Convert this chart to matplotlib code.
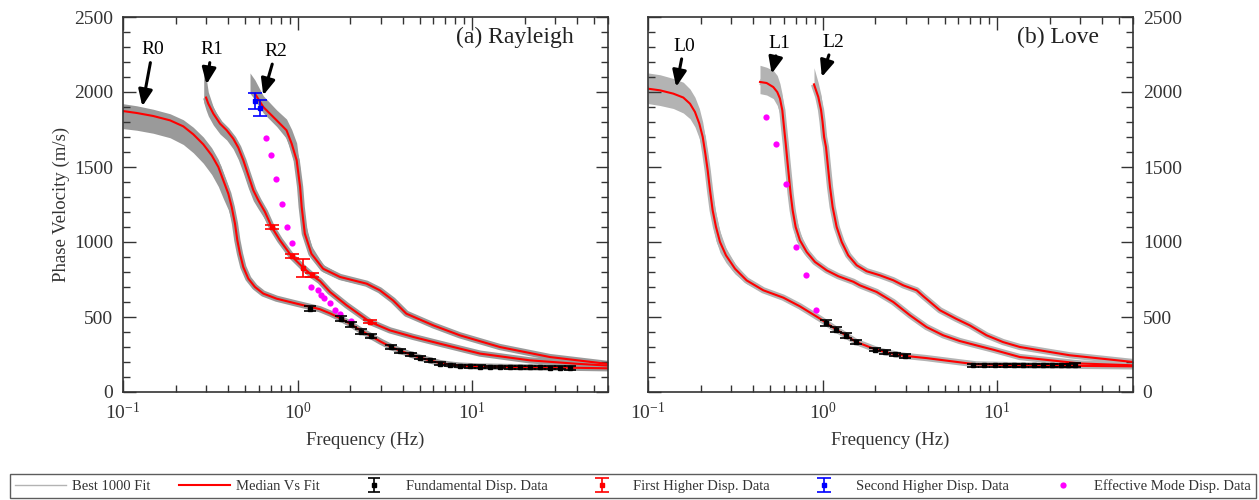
import numpy as np
import matplotlib
matplotlib.use('Agg')
import matplotlib.pyplot as plt
from matplotlib.lines import Line2D
from matplotlib.ticker import MultipleLocator, LogLocator

plt.rcParams['font.family'] = ['Liberation Serif', 'DejaVu Serif']
plt.rcParams['mathtext.fontset'] = 'stix'

# ---------------- Rayleigh (a) ----------------
# fundamental mode R0: frequency, median, upper / lower edge of the 1000 fits
r0_f = [0.1, 0.12, 0.149, 0.186, 0.2215, 0.2527, 0.2884, 0.322, 0.3516, 0.3754, 0.401, 0.4195,
        0.438, 0.4518, 0.4677, 0.4887, 0.522, 0.57, 0.636, 0.759, 0.988, 1.343, 1.55, 1.75,
        2.0, 2.3, 2.63, 3.0, 3.41, 3.87, 4.44, 5.0, 5.73, 6.54, 7.46, 8.5, 11, 20, 36, 60]
r0_med = [1873, 1860, 1840, 1811, 1771, 1718, 1651, 1578, 1500, 1411, 1322, 1233,
          1122, 1011, 922, 833, 756, 700, 656, 622, 589, 552, 522, 492,
          455, 410, 373, 335, 302, 275, 250, 230, 211, 193, 183, 176, 170, 165, 162, 158]
r0_hi = [1922, 1908, 1885, 1855, 1815, 1765, 1700, 1628, 1550, 1460, 1370, 1280,
         1165, 1050, 955, 860, 775, 715, 668, 632, 598, 562, 532, 502,
         465, 420, 383, 345, 311, 284, 259, 238, 219, 201, 190, 183, 177, 172, 170, 168]
r0_lo = [1756, 1745, 1725, 1695, 1650, 1595, 1525, 1450, 1370, 1290, 1215, 1140,
         1050, 955, 880, 800, 735, 685, 644, 612, 580, 542, 512, 482,
         445, 400, 363, 325, 293, 266, 241, 222, 203, 185, 176, 169, 163, 158, 155, 150]

# first higher mode R1
r1_f = [0.29, 0.299, 0.308, 0.329, 0.3595, 0.3926, 0.428, 0.4575, 0.4887, 0.522, 0.5577, 0.5957,
        0.6507, 0.711, 0.793, 0.925, 1.07, 1.21, 1.343, 1.534, 1.91, 2.6, 3.38, 4.6, 6.54,
        11.1, 21.4, 40, 60]
r1_med = [np.nan, 1963, 1922, 1856, 1789, 1745, 1689, 1629, 1545, 1445, 1345, 1278,
          1200, 1100, 1011, 905, 832, 778, 740, 667, 578, 467, 411, 367, 322,
          256, 211, 188, 176]
r1_hi = [2127, 2100, 2000, 1900, 1815, 1765, 1710, 1650, 1570, 1470, 1370, 1298,
         1215, 1112, 1021, 915, 842, 788, 750, 677, 588, 477, 421, 377, 331,
         265, 220, 196, 184]
r1_lo = [1930, 1880, 1840, 1780, 1720, 1680, 1620, 1550, 1460, 1360, 1275, 1220,
         1150, 1070, 990, 890, 820, 766, 728, 655, 568, 457, 401, 357, 313,
         247, 202, 180, 168]

# second higher mode R2
r2_f = [0.534, 0.570, 0.636, 0.759, 0.864, 0.925, 0.988, 1.034, 1.056, 1.10, 1.20, 1.40,
        1.75, 2.49, 2.96, 3.52, 4.2, 6.0, 8.5, 14.4, 27.9, 60]
r2_med = [np.nan, 1989, 1900, 1811, 1745, 1656, 1545, 1367, 1233, 1056, 922, 822,
          767, 722, 678, 611, 522, 444, 378, 300, 233, 187]
r2_hi = [2127, 2080, 1975, 1880, 1820, 1750, 1660, 1480, 1330, 1140, 975, 850,
         785, 738, 692, 625, 535, 455, 388, 310, 243, 196]
r2_lo = [1990, 1950, 1860, 1770, 1690, 1590, 1460, 1290, 1170, 1010, 890, 800,
         750, 708, 665, 598, 510, 433, 368, 290, 224, 178]

# measured dispersion data
rd0_f = [1.18, 1.77, 2.01, 2.31, 2.63, 3.41, 3.87, 4.44, 5.02, 5.73, 6.54, 7.46, 8.51, 9.71,
         11.1, 12.6, 14.4, 16.5, 18.8, 21.4, 24.5, 27.9, 31.9, 36.3]
rd0_v = [556, 489, 451, 403, 373, 300, 273, 251, 229, 211, 189, 180, 173, 171,
         169, 167, 167, 164, 164, 164, 164, 162, 162, 162]
rd0_e = [15, 16, 16, 14, 14, 12, 12, 11, 11, 10, 10, 9, 9, 9, 9, 9, 9, 9, 9, 9, 9, 9, 9, 12]

rd1_f = [0.711, 0.925, 1.07, 1.21, 2.60]
rd1_v = [1100, 905, 829, 778, 467]
rd1_e = [14, 14, 60, 14, 10]

rd2_f = [0.570, 0.61]
rd2_v = [1943, 1893]
rd2_e = [53, 55]

reff_f = [0.656, 0.701, 0.749, 0.814, 0.873, 0.933, 1.19, 1.31, 1.36, 1.41, 1.53, 1.63, 1.75, 2.01]
reff_v = [1693, 1580, 1422, 1256, 1100, 993, 698, 683, 645, 630, 593, 549, 522, 472]

# ---------------- Love (b) ----------------
l0_f = [0.1, 0.1172, 0.1397, 0.1593, 0.174, 0.1858, 0.1968, 0.2058, 0.213, 0.2197, 0.2266,
        0.2346, 0.2452, 0.2585, 0.2797, 0.315, 0.3673, 0.4576, 0.5957, 0.742, 0.966, 1.19,
        1.36, 1.55, 2.0, 2.3, 2.6, 3.0, 3.94, 6.1, 7.6, 15, 30, 60]
l0_med = [2022, 2011, 1989, 1963, 1922, 1867, 1789, 1700, 1589, 1478, 1345,
          1211, 1100, 1000, 911, 822, 744, 678, 629, 571, 489, 418,
          378, 335, 285, 265, 252, 240, 226, 198, 184, 177, 174, 171]
l0_hi = [2127, 2115, 2090, 2065, 2020, 1965, 1890, 1800, 1690, 1580, 1445,
         1310, 1190, 1070, 960, 857, 766, 693, 641, 581, 499, 428,
         388, 345, 293, 273, 259, 247, 233, 204, 190, 183, 180, 179]
l0_lo = [1923, 1910, 1890, 1860, 1822, 1767, 1690, 1600, 1490, 1378, 1245,
         1111, 1010, 930, 862, 787, 722, 663, 617, 561, 479, 408,
         368, 325, 277, 257, 245, 233, 219, 192, 178, 171, 168, 163]

l1_f = [0.438, 0.478, 0.522, 0.550, 0.570, 0.588, 0.601, 0.615, 0.628, 0.642, 0.656, 0.674,
        0.701, 0.742, 0.811, 0.905, 1.056, 1.23, 1.50, 1.637, 2.04, 2.54, 3.17, 3.94, 4.91,
        6.1, 7.6, 9.5, 13.5, 30, 60]
l1_med = [2067, 2060, 2033, 2000, 1956, 1878, 1767, 1656, 1545, 1433, 1322, 1211,
          1100, 1011, 933, 867, 811, 772, 735, 711, 667, 600, 511, 433, 378,
          340, 311, 282, 233, 190, 178]
l1_hi = [2178, 2165, 2144, 2110, 2056, 1980, 1870, 1760, 1650, 1540, 1425, 1305,
         1180, 1060, 965, 885, 824, 783, 745, 721, 677, 610, 521, 442, 387,
         348, 319, 290, 241, 196, 186]
l1_lo = [1989, 1980, 1956, 1910, 1850, 1770, 1660, 1550, 1440, 1330, 1220, 1115,
         1020, 960, 900, 848, 798, 761, 725, 701, 657, 590, 501, 424, 369,
         332, 303, 274, 225, 184, 170]

l2_f = [0.893, 0.945, 0.98, 1.0, 1.02, 1.046, 1.074, 1.103, 1.142, 1.204, 1.287, 1.403,
        1.568, 1.789, 2.13, 2.54, 2.9, 3.46, 3.78, 4.7, 5.8, 6.98, 8.7, 10.8, 13.5, 26, 60]
l2_med = [2051, 1967, 1880, 1800, 1700, 1633, 1500, 1367, 1233, 1100, 1000, 911,
          845, 805, 778, 745, 711, 678, 638, 545, 489, 444, 378, 333, 300, 245, 200]
l2_hi = [2162, 2060, 1980, 1900, 1790, 1710, 1580, 1440, 1300, 1155, 1040, 940,
         865, 820, 791, 757, 723, 690, 650, 557, 500, 454, 388, 342, 309, 253, 207]
l2_lo = [2000, 1900, 1800, 1710, 1620, 1550, 1420, 1290, 1165, 1045, 960, 882,
         825, 790, 765, 733, 699, 666, 626, 533, 478, 434, 368, 324, 291, 237, 193]

ld0_f = [1.04, 1.19, 1.36, 1.55, 2.0, 2.28, 2.6, 2.96, 7.29, 8.39, 9.66, 11.1, 12.5, 14.1,
         16.2, 18.3, 20.5, 23.1, 25.4, 27.9]
ld0_v = [460, 416, 376, 333, 283, 265, 251, 240, 178, 178, 178, 178, 178, 178,
         178, 178, 178, 179, 180, 181]
ld0_e = [20, 18, 16, 16, 12, 12, 12, 12, 10, 10, 10, 10, 10, 10, 10, 10, 10, 10, 10, 12]

leff_f = [0.474, 0.541, 0.615, 0.702, 0.80, 0.913]
leff_v = [1833, 1651, 1385, 969, 783, 547]

ray_modes = [(r0_f, r0_med, r0_hi, r0_lo), (r1_f, r1_med, r1_hi, r1_lo), (r2_f, r2_med, r2_hi, r2_lo)]
love_modes = [(l0_f, l0_med, l0_hi, l0_lo), (l1_f, l1_med, l1_hi, l1_lo), (l2_f, l2_med, l2_hi, l2_lo)]


def draw_modes(ax, modes, band_color):
    for f, med, hi, lo in modes:
        ax.fill_between(f, lo, hi, color=band_color, lw=0, zorder=1)
        ax.plot(f, med, color=band_color, lw=4.5, solid_capstyle='butt', zorder=1)
    for f, med, hi, lo in modes:
        ax.plot(f, med, color='#ff0000', lw=1.5, zorder=2)


def style_axes(ax):
    ax.set_xscale('log')
    ax.set_xlim(0.1, 60)
    ax.set_ylim(0, 2500)
    ax.yaxis.set_major_locator(MultipleLocator(500))
    ax.yaxis.set_minor_locator(MultipleLocator(100))
    ax.xaxis.set_minor_locator(LogLocator(subs=np.arange(2, 10)))
    ax.tick_params(which='both', direction='in', top=True, right=True, left=True,
                   colors='#333333', labelsize=14, pad=7)
    ax.tick_params(which='major', length=9, width=1)
    ax.tick_params(which='minor', length=5, width=1)
    for s in ax.spines.values():
        s.set_color('#333333')
        s.set_linewidth(1.2)
    ax.set_xlabel('Frequency (Hz)', fontsize=13.5, color='#333333', labelpad=6)


def arrow_label(ax, text, tip, txt):
    ax.annotate(text, xy=tip, xytext=txt, ha='center', va='center', fontsize=14,
                arrowprops=dict(arrowstyle='-|>,head_length=0.7,head_width=0.3', color='k',
                                lw=2.2, mutation_scale=14, shrinkA=1, shrinkB=0), zorder=5)


fig = plt.figure(figsize=(12.59, 5.0), dpi=100)
ax1 = fig.add_axes([123 / 1259, 108 / 500, 485 / 1259, 375 / 500])
ax2 = fig.add_axes([648 / 1259, 108 / 500, 485 / 1259, 375 / 500])

# (a) Rayleigh
draw_modes(ax1, ray_modes, '#9a9a9a')
eb0 = ax1.errorbar(rd0_f, rd0_v, yerr=rd0_e, fmt='s', color='k', ms=3.5, capsize=4,
                   elinewidth=1.2, capthick=1.2, zorder=4)
eb1 = ax1.errorbar(rd1_f, rd1_v, yerr=rd1_e, fmt='s', color='#ff0000', ms=3.5, capsize=5,
                   elinewidth=1.2, capthick=1.2, zorder=4)
eb2 = ax1.errorbar(rd2_f, rd2_v, yerr=rd2_e, fmt='s', color='#0000ff', ms=3.5, capsize=5,
                   elinewidth=1.2, capthick=1.2, zorder=4)
effm, = ax1.plot(reff_f, reff_v, 'o', color='#ff00ff', ms=4.5, mec='none', zorder=3)
style_axes(ax1)
ax1.set_ylabel('Phase Velocity (m/s)', fontsize=13.5, color='#333333')
ax1.yaxis.set_label_coords(-0.109, 0.5)
ax1.text(0.93, 0.945, '(a) Rayleigh', transform=ax1.transAxes, ha='right', va='center',
         fontsize=17, color='#222222')
arrow_label(ax1, 'R0', (0.129, 1905), (0.148, 2280))
arrow_label(ax1, 'R1', (0.301, 2051), (0.322, 2280))
arrow_label(ax1, 'R2', (0.636, 1978), (0.751, 2270))

# (b) Love
draw_modes(ax2, love_modes, '#b3b3b3')
ax2.errorbar(ld0_f, ld0_v, yerr=ld0_e, fmt='s', color='k', ms=3.5, capsize=4,
             elinewidth=1.2, capthick=1.2, zorder=4)
ax2.plot(leff_f, leff_v, 'o', color='#ff00ff', ms=4.5, mec='none', zorder=3)
style_axes(ax2)
ax2.tick_params(labelleft=False, labelright=True)
ax2.text(0.93, 0.945, '(b) Love', transform=ax2.transAxes, ha='right', va='center',
         fontsize=17, color='#222222')
arrow_label(ax2, 'L0', (0.145, 2034), (0.161, 2305))
arrow_label(ax2, 'L1', (0.511, 2122), (0.562, 2325))
arrow_label(ax2, 'L2', (0.99, 2100), (1.147, 2331))

handles = [Line2D([], [], color='#b3b3b3', lw=1), Line2D([], [], color='#ff0000', lw=1.5),
           eb0, eb1, eb2, effm]
labels = ['Best 1000 Fit', 'Median Vs Fit', 'Fundamental Disp. Data', 'First Higher Disp. Data',
          'Second Higher Disp. Data', 'Effective Mode Disp. Data']
leg = fig.legend(handles, labels, loc='lower left', bbox_to_anchor=(10 / 1259, 2 / 500, 1246 / 1259, 22 / 500),
                 mode='expand', ncol=6, fontsize=10.5, frameon=True, fancybox=False,
                 edgecolor='#333333', borderaxespad=0, borderpad=0.35, handlelength=3.5,
                 handletextpad=0.4)
leg.get_frame().set_linewidth(1.0)
for t in leg.get_texts():
    t.set_color('#333333')

fig.savefig('out.png', dpi=100)
